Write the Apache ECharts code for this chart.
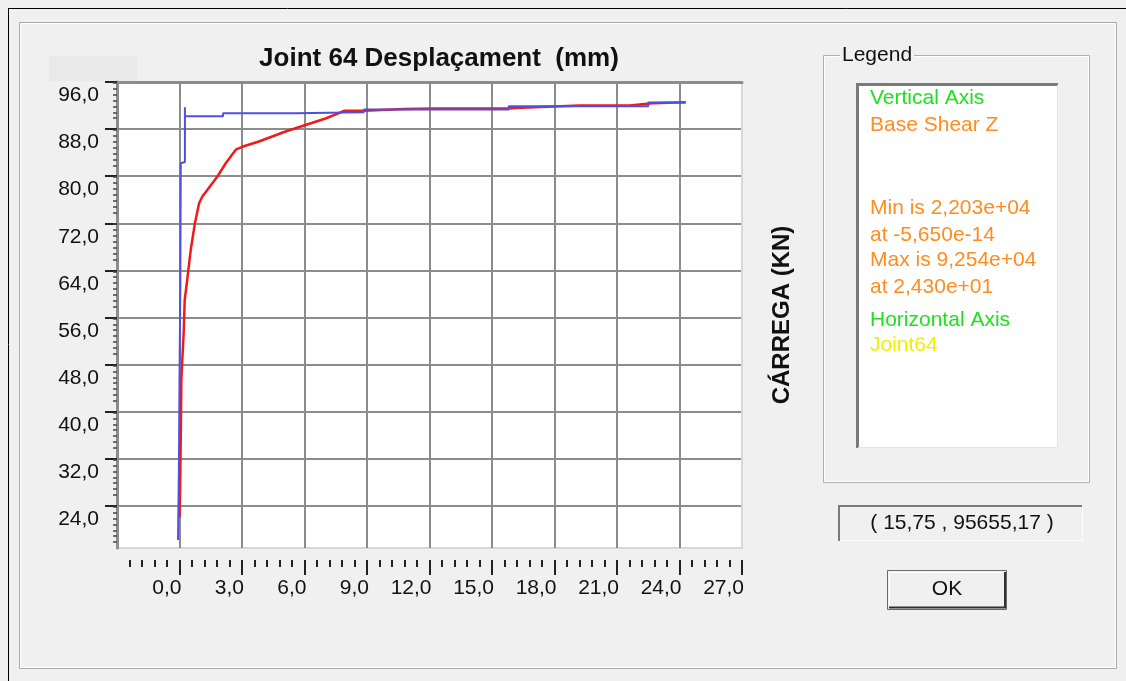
<!DOCTYPE html>
<html><head><meta charset="utf-8">
<script src="https://cdn.jsdelivr.net/npm/echarts@6/dist/echarts.min.js"></script>
<style>html,body{margin:0;padding:0;background:#f0f0f0;overflow:hidden}#c{width:1126px;height:681px;}</style>
</head><body><div id="c"></div>
<script>
// ---- data ----
const chartTitle = 'Joint 64 Desplaçament  (mm)';
const yAxisName = 'CÁRREGA (KN)';
const xTickLabels = [0, 3, 6, 9, 12, 15, 18, 21, 24, 27];
const yTickLabels = [24, 32, 40, 48, 56, 64, 72, 80, 88, 96];
const xMin = -3, xMax = 27, xStep = 3;
const yMin = 16.85, yMax = 96, yStep = 8;

// blue series (joint displacement curve)
const blueX = [-0.07, -0.03, 0.00, 0.04, 0.06, 0.26, 0.26, 0.26, 2.09, 2.09, 5.57, 5.57, 8.85, 8.85, 15.8, 15.8, 22.5, 22.5, 24.3];
const blueY = [18.2, 30.0, 45.0, 62.0, 82.2, 82.4, 91.7, 90.2, 90.2, 90.7, 90.7, 90.85, 90.85, 91.35, 91.35, 91.9, 91.9, 92.5, 92.5];

// red series (base shear curve)
const redX = [0.00, 0.03, 0.06, 0.09, 0.20, 0.25, 0.37, 0.54, 0.74, 0.94, 1.09, 1.81, 2.22, 2.70, 3.01, 3.81, 5.09, 6.05, 7.01, 7.65, 7.89, 8.85, 10.77, 12.29, 15.8, 16.1, 19.2, 21.6, 22.7, 24.3];
const redY = [22.03, 27.0, 35.7, 45.6, 53.4, 59.0, 62.4, 67.5, 72.0, 75.4, 76.5, 79.9, 82.2, 84.5, 85.0, 85.9, 87.6, 88.7, 89.8, 90.7, 91.1, 91.1, 91.4, 91.5, 91.5, 91.6, 92.0, 92.0, 92.4, 92.54];

// legend panel texts
const legendTitle = 'Legend';
const legendLines = [
  { text: 'Vertical Axis', color: '#20e020' },
  { text: 'Base Shear Z', color: '#ff8c1e' },
  { text: 'Min is 2,203e+04', color: '#ff8c1e' },
  { text: 'at -5,650e-14', color: '#ff8c1e' },
  { text: 'Max is 9,254e+04', color: '#ff8c1e' },
  { text: 'at 2,430e+01', color: '#ff8c1e' },
  { text: 'Horizontal Axis', color: '#20e020' },
  { text: 'Joint64', color: '#f0f000' }
];
const legendLineY = [98, 125, 208, 235, 260, 287, 320, 345];
const cursorText = '( 15,75 , 95655,17 )';
const buttonText = 'OK';

// ---- build ----
const FONT = "'Liberation Sans', Arial, sans-serif";
const fmt = v => Number(v).toFixed(1).replace('.', ',');
const zip = (a, b) => a.map((v, i) => [v, b[i]]);

const chart = echarts.init(document.getElementById('c'), null, { renderer: 'canvas' });

const graphics = [
  // window frame
  { type: 'line', shape: { x1: 8, y1: 8.5, x2: 1126, y2: 8.5 }, style: { stroke: '#000', lineWidth: 1 } },
  { type: 'line', shape: { x1: 8.5, y1: 8, x2: 8.5, y2: 681 }, style: { stroke: '#000', lineWidth: 1 } },
  { type: 'rect', shape: { x: 19.5, y: 22.5, width: 1097, height: 646 }, style: { fill: null, stroke: '#a8a8a8', lineWidth: 1 } },
  { type: 'rect', shape: { x: 20.5, y: 23.5, width: 1095, height: 644 }, style: { fill: null, stroke: '#ffffff', lineWidth: 1 } },
  // small light block above plot
  { type: 'rect', shape: { x: 49, y: 56, width: 88, height: 25 }, style: { fill: '#e9e9e9' } },
  // legend group box
  { type: 'rect', shape: { x: 823.5, y: 55.5, width: 266, height: 427 }, style: { fill: null, stroke: '#b0b0b0', lineWidth: 1 } },
  { type: 'rect', shape: { x: 824.5, y: 56.5, width: 264, height: 425 }, style: { fill: null, stroke: '#ffffff', lineWidth: 1 } },
  { type: 'text', x: 840, y: 55, style: { text: legendTitle, fill: '#111', font: '21px ' + FONT, verticalAlign: 'middle', backgroundColor: '#f0f0f0', padding: [0, 2] } },
  // legend white panel
  { type: 'rect', shape: { x: 857, y: 83, width: 201, height: 365 }, style: { fill: '#ffffff' } },
  { type: 'polyline', shape: { points: [[857.5, 448], [857.5, 84.5], [1058, 84.5]] }, style: { stroke: '#7a7a7a', lineWidth: 3, fill: null } },
  { type: 'polyline', shape: { points: [[858, 447.5], [1057.5, 447.5], [1057.5, 85]] }, style: { stroke: '#e4e4e4', lineWidth: 1, fill: null } },
  // cursor readout box
  { type: 'rect', shape: { x: 838, y: 505, width: 244, height: 36 }, style: { fill: '#f0f0f0' } },
  { type: 'polyline', shape: { points: [[839, 541], [839, 506], [1082, 506]] }, style: { stroke: '#7a7a7a', lineWidth: 2, fill: null } },
  { type: 'polyline', shape: { points: [[840, 540.5], [1082.5, 540.5], [1082.5, 507]] }, style: { stroke: '#ffffff', lineWidth: 1, fill: null } },
  { type: 'text', x: 962, y: 523, style: { text: cursorText, fill: '#111', font: '21px ' + FONT, align: 'center', verticalAlign: 'middle' } },
  // OK button
  { type: 'rect', shape: { x: 887.5, y: 570.5, width: 119, height: 39 }, style: { fill: '#f0f0f0', stroke: '#6a6a6a', lineWidth: 1 } },
  { type: 'polyline', shape: { points: [[889, 607.5], [1005, 607.5], [1005, 572]] }, style: { stroke: '#303030', lineWidth: 2, fill: null } },
  { type: 'polyline', shape: { points: [[889.5, 606], [889.5, 572.5], [1003, 572.5]] }, style: { stroke: '#ffffff', lineWidth: 1, fill: null } },
  { type: 'text', x: 947, y: 589, style: { text: buttonText, fill: '#111', font: '21px ' + FONT, align: 'center', verticalAlign: 'middle' } }
];
legendLines.forEach((l, i) => {
  graphics.push({ type: 'text', x: 870, y: legendLineY[i], style: { text: l.text, fill: l.color, font: '21px ' + FONT, verticalAlign: 'middle' } });
});

const option = {
  animation: false,
  backgroundColor: '#f0f0f0',
  title: {
    text: chartTitle, left: 434, top: 41, textAlign: 'center',
    textStyle: { fontFamily: FONT, fontSize: 26, fontWeight: 'bold', color: '#111' }
  },
  grid: {
    left: 117, top: 82, right: 384, bottom: 133,
    show: true, backgroundColor: '#ffffff', borderColor: '#d8d8d8', borderWidth: 2
  },
  xAxis: [
    {
      type: 'value', position: 'bottom', offset: 12, min: xMin, max: xMax, interval: xStep,
      axisLine: { show: false, onZero: false },
      axisTick: { show: true, inside: false, length: 15, customValues: xTickLabels, lineStyle: { color: '#222', width: 2 } },
      minorTick: { show: true, splitNumber: 5, length: 7, lineStyle: { color: '#222', width: 2 } },
      axisLabel: { customValues: xTickLabels, formatter: fmt, align: 'right', margin: 18, padding: [0, -2, 0, 0], fontFamily: FONT, fontSize: 21, color: '#111' },
      splitLine: { show: true, lineStyle: { color: '#8c8c8c', width: 2 } }
    },
    {
      type: 'value', position: 'top', min: xMin, max: xMax, interval: xStep,
      axisLine: { show: true, onZero: false, lineStyle: { color: '#8c8c8c', width: 3 } },
      axisTick: { show: false }, axisLabel: { show: false }, splitLine: { show: false }
    }
  ],
  yAxis: [
    {
      type: 'value', position: 'left', min: yMin, max: yMax, interval: yStep,
      axisLine: { show: true, onZero: false, lineStyle: { color: '#8c8c8c', width: 3 } },
      axisTick: { show: true, inside: false, length: 12, customValues: yTickLabels, lineStyle: { color: '#222', width: 2 } },
      minorTick: { show: true, splitNumber: 8, length: 4, lineStyle: { color: '#444', width: 1.5 } },
      axisLabel: { customValues: yTickLabels, formatter: fmt, verticalAlign: 'top', margin: 18, padding: [3, 0, 0, 0], fontFamily: FONT, fontSize: 21, color: '#111' },
      splitLine: { show: true, lineStyle: { color: '#8c8c8c', width: 2 } }
    },
    {
      type: 'value', position: 'right', min: yMin, max: yMax, interval: yStep,
      axisLine: { show: true, onZero: false, lineStyle: { color: '#d8d8d8', width: 2 } },
      axisTick: { show: false }, axisLabel: { show: false }, splitLine: { show: false },
      name: yAxisName, nameLocation: 'middle', nameRotate: 90, nameGap: 28,
      nameTextStyle: { fontFamily: FONT, fontSize: 24, fontWeight: 'bold', color: '#111' }
    }
  ],
  series: [
    {
      name: 'Base Shear Z', type: 'line', data: zip(redX, redY), showSymbol: false,
      lineStyle: { color: '#f01a1a', width: 2.5 }, z: 3
    },
    {
      name: 'Joint64', type: 'line', data: zip(blueX, blueY), showSymbol: false,
      lineStyle: { color: '#4f4fe2', width: 2 }, z: 4
    }
  ],
  graphic: graphics
};
chart.setOption(option);
</script>
</body></html>
